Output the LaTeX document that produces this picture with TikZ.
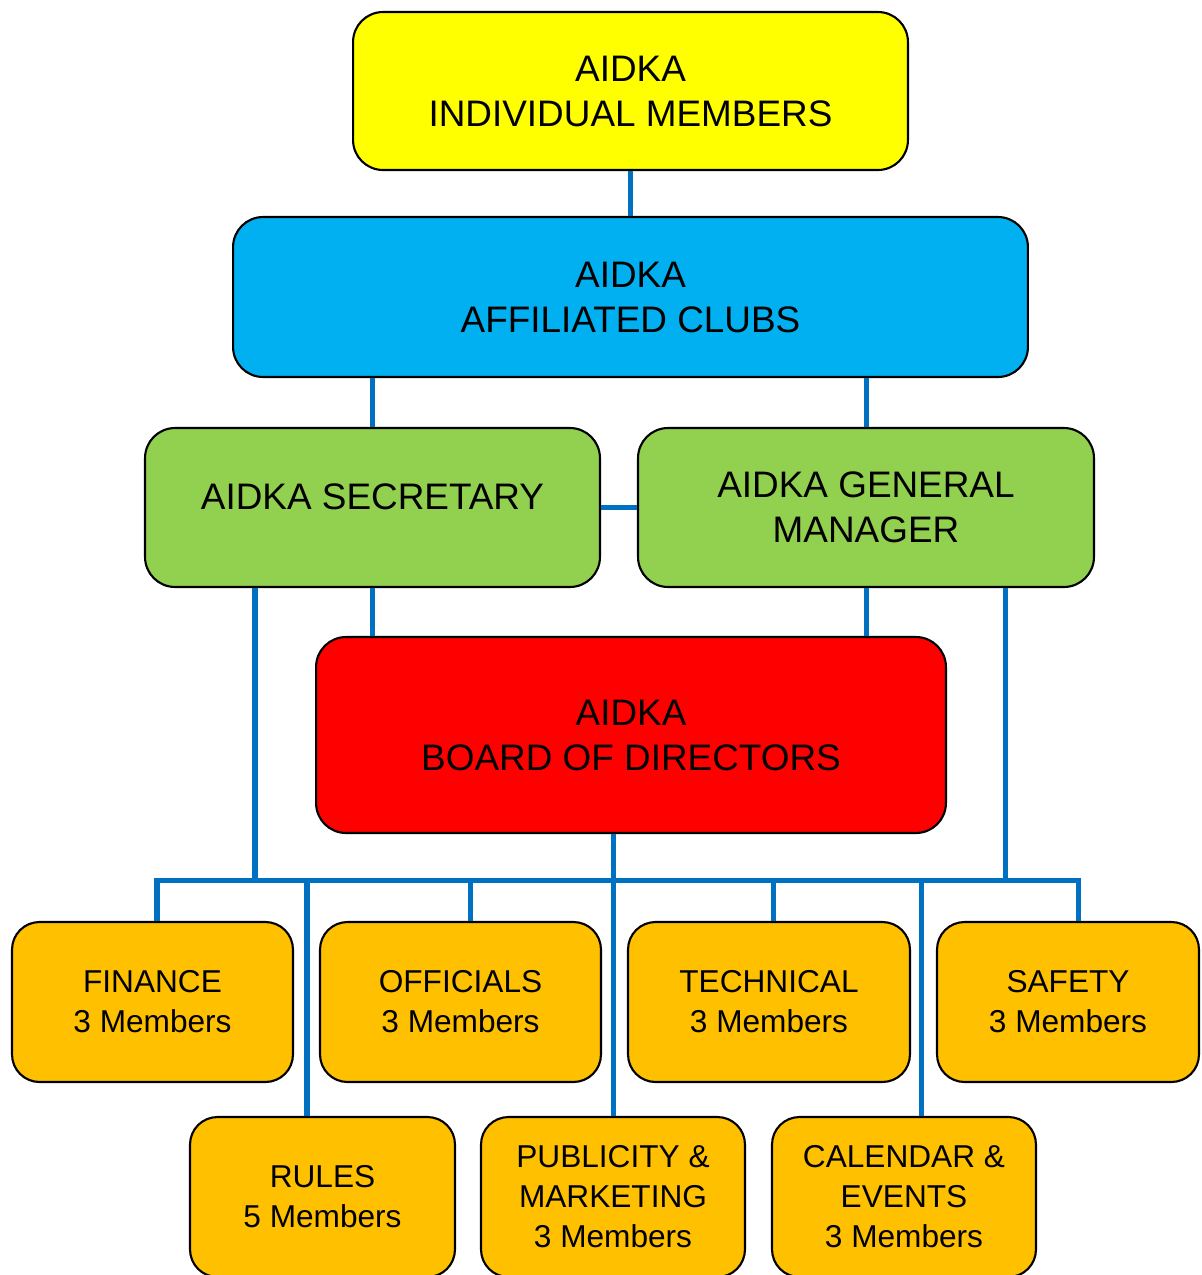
\documentclass[tikz,border=0pt]{standalone}
\usepackage{fontspec}
\setmainfont{Liberation Sans}
\usepackage[rgb]{xcolor}
\usepackage{tikz}

\definecolor{membyellow}{RGB}{255,255,0}
\definecolor{clubblue}{RGB}{0,176,240}
\definecolor{officegreen}{RGB}{146,208,80}
\definecolor{boardred}{RGB}{255,0,0}
\definecolor{cttorange}{RGB}{255,192,0}
\definecolor{linkblue}{RGB}{0,112,192}

\begin{document}
\begin{tikzpicture}[x=0.02cm, y=-0.02cm,
  box/.style={draw=black, line width=1.2pt, rounded corners=0.6cm, align=center,
    inner sep=0pt, font=\fontsize{21}{25.6}\selectfont},
  cttee/.style={box, fill=cttorange, rounded corners=0.55cm,
    font=\fontsize{18}{22.8}\selectfont, minimum height=3.2cm},
  link/.style={draw=linkblue, line width=2.85pt}]

\useasboundingbox (0,0) rectangle (1201,1275);

% top of the tree
\node[box, fill=membyellow, minimum width=11.1cm, minimum height=3.16cm] (members) at (630.5,91) {AIDKA\\INDIVIDUAL MEMBERS};
\node[box, fill=clubblue, minimum width=15.9cm, minimum height=3.2cm] (clubs) at (630.5,297) {AIDKA\\AFFILIATED CLUBS};
\node[box, fill=officegreen, minimum width=9.1cm, minimum height=3.18cm] (sec) at (372.5,507.5) {\raisebox{0.44cm}{AIDKA SECRETARY}};
\node[box, fill=officegreen, minimum width=9.12cm, minimum height=3.18cm] (gm) at (866,507.5) {AIDKA GENERAL\\MANAGER};
\node[box, fill=boardred, minimum width=12.6cm, minimum height=3.92cm] (board) at (631,735) {AIDKA\\BOARD OF DIRECTORS};

% committees
 \foreach \n/\x/\y/\w/\t in {fin/152.5/1002/5.62/{FINANCE\\3 Members},
   off/460.5/1002/5.62/{OFFICIALS\\3 Members},
   tech/769/1002/5.64/{TECHNICAL\\3 Members},
   saf/1068/1002/5.24/{SAFETY\\3 Members},
   rules/322.5/1197/5.3/{RULES\\5 Members},
   pub/613/1197/5.28/{PUBLICITY \&\\MARKETING\\3 Members},
   cal/904/1197/5.28/{CALENDAR \&\\EVENTS\\3 Members}}
  {
  \node[cttee, minimum width=\w cm] (\n) at (\x,\y) {\t};
  }

% connectors
\draw[link] (members) -- (clubs);
\draw[link] (sec.north) -- (sec.north |- clubs.south);
\draw[link] (gm.north) -- (gm.north |- clubs.south);
\draw[link] (sec.east) -- (gm.west);
\draw[link] (sec.south) -- (sec.south |- board.north);
\draw[link] (gm.south) -- (gm.south |- board.north);

\coordinate (busw) at (157,880);
\coordinate (buse) at (1078,880);
\coordinate (secdrop) at (255,880);
\coordinate (gmdrop) at (1005,880);
\draw[link] (fin.north -| busw) -- (busw) -- (buse) -- (saf.north -| buse);
\draw[link] (secdrop |- sec.south) -- (secdrop);
\draw[link] (gmdrop |- gm.south) -- (gmdrop);
\draw[link] (pub.north |- board.south) -- (pub.north);
 \foreach \n/\x in {off/470, tech/773, rules/307, cal/921}
  {
  \draw[link] (\x,880) -- (\n.north -| \x,880);
  }

\end{tikzpicture}
\end{document}
